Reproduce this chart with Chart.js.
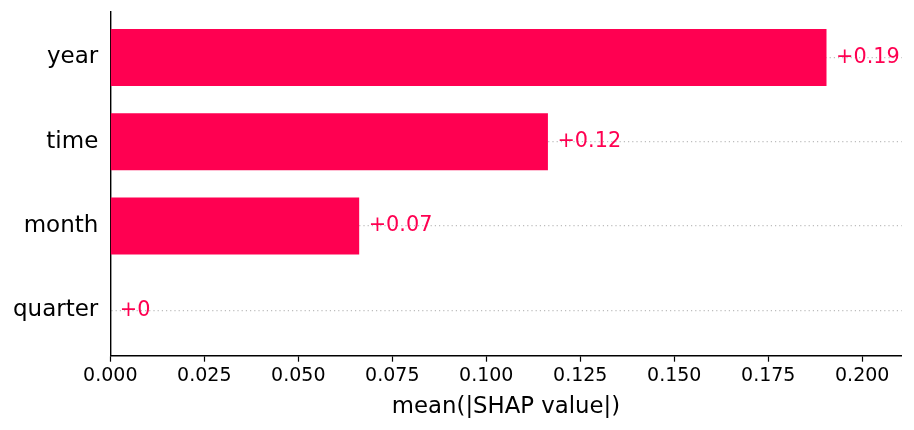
<!DOCTYPE html>
<html>
<head>
<meta charset="utf-8">
<script src="https://cdn.jsdelivr.net/npm/chart.js@4/dist/chart.umd.min.js"></script>
<style>
  html, body { margin: 0; padding: 0; background: #fff; }
  #wrap { width: 914px; height: 430px; position: relative; }
</style>
</head>
<body>
<div id="wrap"><canvas id="c"></canvas></div>
<script>
const features = ["year", "time", "month", "quarter"];
const shapValues = [0.1905, 0.1164, 0.0662, 0.0];
const xTickStep = 0.025;
const xMax = 0.2105;
const xTitle = "mean(|SHAP value|)";

const RED = "#ff0051";
const FONT = "'DejaVu Sans', sans-serif";

function fmtLabel(v) {
  return "+" + String(Number(v.toFixed(2)));
}

const valueLabels = {
  id: "valueLabels",
  afterDatasetsDraw(chart) {
    const ctx = chart.ctx;
    const meta = chart.getDatasetMeta(0);
    ctx.save();
    ctx.fillStyle = RED;
    ctx.font = "20.8px " + FONT;
    ctx.textAlign = "left";
    ctx.textBaseline = "middle";
    meta.data.forEach((bar, i) => {
      ctx.fillText(fmtLabel(shapValues[i]), bar.x + 9.5, bar.y);
    });
    ctx.restore();
  }
};

new Chart(document.getElementById("c"), {
  type: "bar",
  data: {
    datasets: [{
      data: shapValues.map((v, i) => ({ x: v, y: i })),
      backgroundColor: RED,
      borderWidth: 0,
      inflateAmount: 0,
      barThickness: 57
    }]
  },
  options: {
    indexAxis: "y",
    responsive: true,
    maintainAspectRatio: false,
    animation: false,
    devicePixelRatio: 1,
    layout: { padding: { top: 12, right: 12.3, left: 0, bottom: 9.4 } },
    plugins: { legend: { display: false }, tooltip: { enabled: false } },
    scales: {
      x: {
        type: "linear",
        min: 0,
        max: xMax,
        offset: false,
        afterFit(scale) {
          scale.height = 430 - 9.4 - 355.7;
          scale.paddingLeft = 0;
          scale.paddingRight = 0;
        },
        grid: {
          display: true,
          offset: false,
          drawOnChartArea: false,
          drawTicks: true,
          tickLength: 6,
          tickColor: "#000",
          tickWidth: 1.2
        },
        border: { display: true, color: "#000", width: 1.4 },
        ticks: {
          stepSize: xTickStep,
          includeBounds: false,
          color: "#000",
          padding: 3,
          maxRotation: 0,
          font: { family: FONT, size: 19 },
          callback: (v) => Number(v).toFixed(3)
        },
        title: {
          display: true,
          text: xTitle,
          color: "#000",
          padding: { top: 0, bottom: 0 },
          font: { family: FONT, size: 22.8 }
        }
      },
      y: {
        type: "linear",
        min: -0.54,
        max: 3.54,
        reverse: true,
        offset: false,
        afterFit(scale) {
          scale.width = 110.3;
          scale.paddingTop = 0;
          scale.paddingBottom = 0;
        },
        grid: {
          display: true,
          offset: false,
          drawTicks: false,
          color: "#bdbdbd",
          lineWidth: 1.2
        },
        border: { display: true, color: "#000", width: 1.4, dash: [1.2, 3] },
        ticks: {
          stepSize: 1,
          includeBounds: false,
          color: "#000",
          padding: 12,
          font: { family: FONT, size: 23 },
          callback: (v) => {
            const i = Math.round(v);
            return Math.abs(v - i) < 1e-6 && features[i] !== undefined ? features[i] : "";
          }
        }
      }
    }
  },
  plugins: [valueLabels]
});
</script>
</body>
</html>
